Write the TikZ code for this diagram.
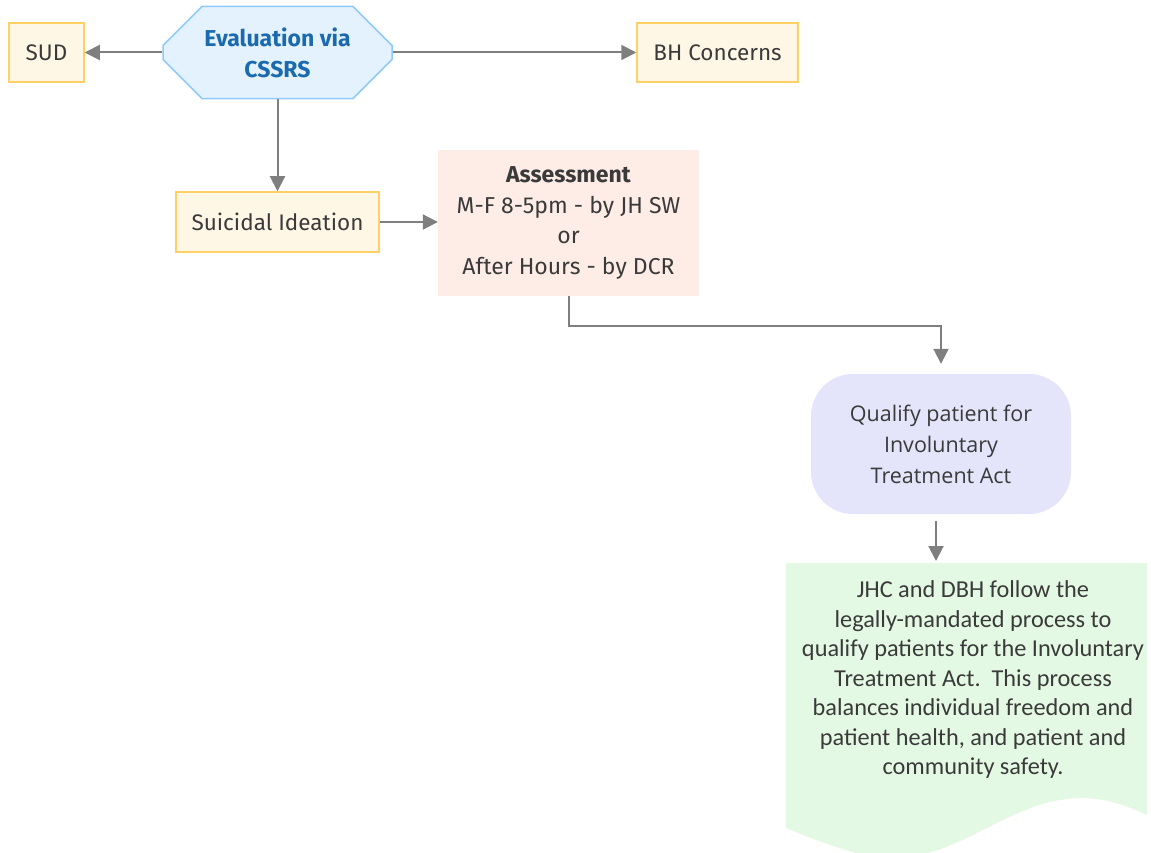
\documentclass[tikz,border=0pt]{standalone}
\usepackage{fontspec}
\setmainfont{Fira Sans}
\newfontfamily\qualfont{Open Sans}
\newfontfamily\docfont{Carlito}
\usetikzlibrary{shapes.misc,arrows.meta}

\definecolor{boxfill}{HTML}{FFF7E6}
\definecolor{boxline}{HTML}{FFD066}
\definecolor{evalfill}{HTML}{E3F2FD}
\definecolor{evalline}{HTML}{90CAF9}
\definecolor{evaltext}{HTML}{1B6AAE}
\definecolor{assessfill}{HTML}{FDEDE6}
\definecolor{qualfill}{HTML}{E4E4FB}
\definecolor{docfill}{HTML}{E4F9E4}
\definecolor{arrowgray}{HTML}{7F7F7F}
\definecolor{textgray}{HTML}{3A3A3A}

\tikzset{
	box/.style={rectangle, draw=boxline, fill=boxfill, line width=1.5pt,
		text=textgray, font=\fontsize{22.5}{27}\selectfont},
	arr/.style={draw=arrowgray, line width=2pt,
		-{Triangle[length=15pt,width=15pt]}}
}

\begin{document}
\begin{tikzpicture}[x=1pt, y=-1pt]
	\useasboundingbox (0,0) rectangle (1151,853);
	% Kasten oben
	\node[box, minimum width=75pt, minimum height=59pt] (sud) at (46.5,52.5) {SUD};
	\node[chamfered rectangle, chamfered rectangle xsep=18pt,
		chamfered rectangle ysep=21pt, draw=evalline, fill=evalfill,
		line width=1.5pt, minimum width=229pt, minimum height=91pt,
		align=center, text=evaltext, inner sep=0pt,
		font=\fontsize{23}{31}\selectfont\bfseries] (eval) at (277.5,52.5)
		{Evaluation via\\CSSRS};
	\node[box, minimum width=161pt, minimum height=59pt] (bh) at (717.5,52.5)
		{BH Concerns};
	% Kasten Mitte
	\node[box, minimum width=203pt, minimum height=60pt] (si) at (277.5,222)
		{Suicidal Ideation};
	\node[rectangle, fill=assessfill, minimum width=261pt, minimum height=146pt,
		align=center, text=textgray, inner sep=0pt,
		font=\fontsize{23}{30.7}\selectfont] (assess) at (568.5,223)
		{\textbf{Assessment}\\M-F 8-5pm - by JH SW\\or\\After Hours - by DCR};
	\node[rectangle, rounded corners=42pt, fill=qualfill, minimum width=260pt,
		minimum height=140pt, align=center, text=textgray, inner sep=0pt,
		font=\qualfont\fontsize{21.5}{31}\selectfont] (qualify) at (941,444)
		{Qualify patient for\\Involuntary\\Treatment Act};
	% Dokument unten
	\fill[docfill] (786,563) -- (1147,563) -- (1147,815)
		.. controls (1115,800) and (1090,795) .. (1060,800)
		.. controls (990,812) and (940,875) .. (860,854)
		.. controls (830,846) and (805,836) .. (786,828) -- cycle;
	\node[align=center, text=textgray, inner sep=0pt,
		font=\docfont\fontsize{24.3}{29.5}\selectfont] (doc) at (973,680)
		{JHC and DBH follow the\\legally-mandated process to\\qualify patients
		for the Involuntary\\Treatment Act.\ \ This process\\balances individual
		freedom and\\patient health, and patient and\\community safety.};
	\coordinate (doctop) at (936,561);
	% Pfeile
	\draw[arr] (eval.west) -- (sud.east);
	\draw[arr] (eval.east) -- (bh.west);
	\draw[arr] (eval.south) -- (si.north);
	\draw[arr] (si.east) -- (si.east -| assess.west);
	\draw[arr] (assess.south) -- ++(0,30) -| ([yshift=10pt]qualify.north);
	\draw[arr] ([shift={(-5,7)}]qualify.south) -- (doctop);
\end{tikzpicture}
\end{document}
